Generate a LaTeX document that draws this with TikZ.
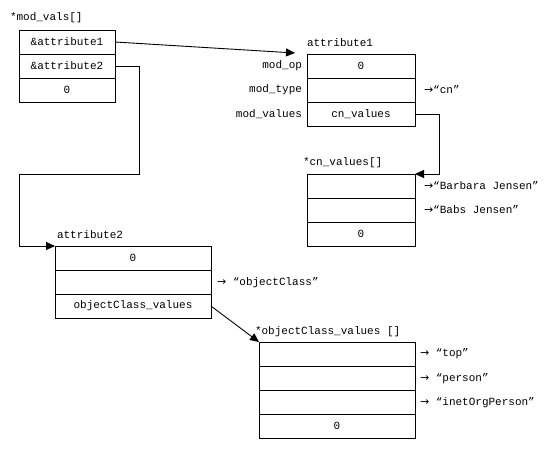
\documentclass[tikz,border=0pt]{standalone}
\usepackage{fontspec}
\setmainfont{Liberation Mono}
\newfontfamily\arrfont{DejaVu Sans}
\newcommand\myra{{\arrfont →}}
\usetikzlibrary{arrows.meta}
\begin{document}
\begin{tikzpicture}[x=1pt,y=-1pt,
  every node/.style={font=\fontsize{11}{12}\selectfont, inner sep=0pt, outer sep=0pt},
  cell/.style={draw, line width=0.9pt, minimum height=24pt, minimum width=#1},
  lbl/.style={anchor=west},
  rlbl/.style={anchor=east},
  conn/.style={line width=0.9pt, -{Triangle[length=9pt,width=8pt]}}]
\useasboundingbox (0,0) rectangle (558,453);
% mod_vals
\node[lbl] (tmv) at (10,18) {*mod\_vals[]};
\node[cell=96pt] (m1) at (67,42) {\&attribute1};
\node[cell=96pt] (m2) at (67,66) {\&attribute2};
\node[cell=96pt] (m3) at (67,90) {0};
% attribute1
\node[lbl] (ta1) at (307,43) {attribute1};
\node[cell=108pt] (a1) at (361,66) {0};
\node[cell=108pt] (a2) at (361,90) {};
\node[cell=108pt] (a3) at (361,114) {cn\_values};
\node[rlbl] (lop) at (302,66) {mod\_op};
\node[rlbl] (lty) at (302,90) {mod\_type};
\node[rlbl] (lva) at (302,114) {mod\_values};
\node[lbl] (tcn) at (424,90) {\myra“cn”};
% cn_values
\node[lbl] (tcv) at (303,163) {*cn\_values[]};
\node[cell=108pt] (c1) at (361,186) {};
\node[cell=108pt] (c2) at (361,210) {};
\node[cell=108pt] (c3) at (361,234) {0};
\node[lbl] (tbj) at (424,186) {\myra“Barbara Jensen”};
\node[lbl] (tbs) at (424,210) {\myra“Babs Jensen”};
% attribute2
\node[lbl] (ta2) at (57,235) {attribute2};
\node[cell=156pt] (b1) at (133,258) {0};
\node[cell=156pt] (b2) at (133,282) {};
\node[cell=156pt] (b3) at (133,306) {objectClass\_values};
\node[lbl] (toc) at (217,283) {\myra{} “objectClass”};
% objectClass_values
\node[lbl] (tov) at (255,332) {*objectClass\_values []};
\node[cell=156pt] (o1) at (337,354) {};
\node[cell=156pt] (o2) at (337,378) {};
\node[cell=156pt] (o3) at (337,402) {};
\node[cell=156pt] (o4) at (337,426) {0};
\node[lbl] (ttop) at (420,354) {\myra{} “top”};
\node[lbl] (tper) at (420,379) {\myra{} “person”};
\node[lbl] (tino) at (420,403) {\myra{} “inetOrgPerson”};
% connectors
\coordinate (a1in) at (295,53);
\coordinate (k1) at (139,174);
\coordinate (k2) at (19,174);
\coordinate (k3) at (439,174);
\draw[conn] (m1.east) -- (a1in);
\draw[conn] (m2.east) -| (k1) -- (k2) |- (b1.north west);
\draw[conn] (a3.east) -| (k3) -- (c1.north east);
\draw[conn] (b3.east) -- (o1.north west);
\end{tikzpicture}
\end{document}
